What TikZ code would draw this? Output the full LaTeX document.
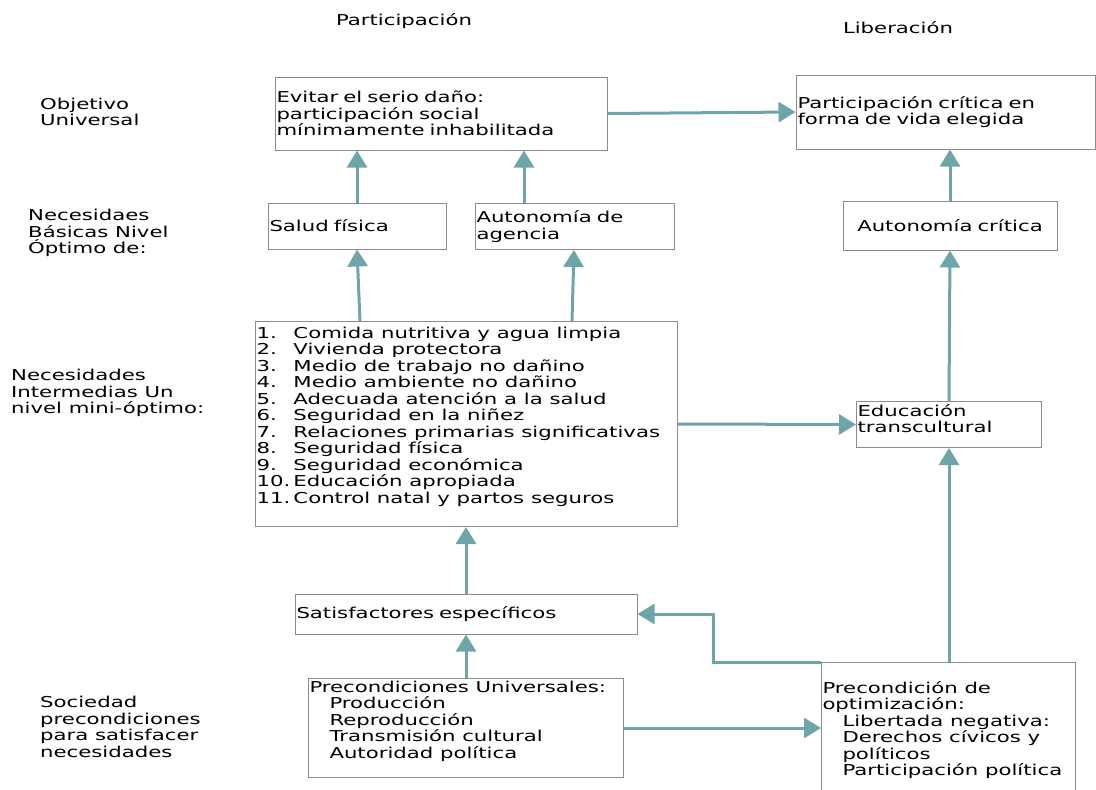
\documentclass[tikz,border=0pt]{standalone}
\usepackage{fontspec}
\setmainfont{DejaVu Sans}[FakeStretch=1.415]
\usetikzlibrary{arrows.meta}
\definecolor{verde}{RGB}{110,165,168}
\definecolor{borde}{RGB}{140,140,140}

\begin{document}
\begin{tikzpicture}[x=1pt, y=-1pt, font=\fontsize{15}{16.5}\selectfont,
	caja/.style={draw=borde, line width=1pt, inner xsep=1.5pt, inner ysep=0pt, align=left},
	cajaarriba/.style={draw=borde, line width=1pt, inner sep=0pt, anchor=north west},
	etiqueta/.style={inner sep=0pt, align=left, anchor=west},
	flecha/.style={draw=verde, line width=3pt, -{Triangle[length=17pt,width=20pt]}}]
	\def\sangria{\hspace*{21pt}}
	\def\num#1{\makebox[37pt][l]{#1}}
	\path [use as bounding box, clip] (0,0) rectangle (1096,790);
	% titulos y niveles
	\node [inner sep=0pt] (14) at (404, 21) {Participación};
	\node [inner sep=0pt] (15) at (898, 28) {Liberación};
	\node [etiqueta] (10) at (40, 112) {Objetivo\\Universal};
	\node [etiqueta] (11) at (28, 233) {Necesidaes\\Básicas Nivel\\Óptimo de:};
	\node [etiqueta] (12) at (11, 393) {Necesidades\\Intermedias Un\\nivel mini-óptimo:};
	\node [etiqueta] (13) at (40, 727) {Sociedad\\precondiciones\\para satisfacer\\necesidades};
	% cajas
	\node [caja, text width=329pt, minimum height=73pt] (0) at (441, 113.5) {Evitar el serio daño:\\participación social\\mínimamente inhabilitada};
	\node [caja, text width=296pt, minimum height=74pt] (1) at (945.5, 112) {Participación crítica en\\forma de vida elegida};
	\node [caja, text width=175pt, minimum height=46pt] (2) at (357, 226) {Salud física};
	\node [caja, text width=196pt, minimum height=46pt] (3) at (574.5, 226.5) {Autonomía de\\agencia};
	\node [caja, text width=211pt, minimum height=49pt, align=center] (4) at (950, 225.5) {Autonomía crítica};
	\node [cajaarriba] (5) at (255, 321) {\parbox[t][205pt][t]{422pt}{\vspace*{5.5pt}\hspace*{1pt}\num{1.}Comida nutritiva y agua limpia\\
		\hspace*{1pt}\num{2.}Vivienda protectora\\
		\hspace*{1pt}\num{3.}Medio de trabajo no dañino\\
		\hspace*{1pt}\num{4.}Medio ambiente no dañino\\
		\hspace*{1pt}\num{5.}Adecuada atención a la salud\\
		\hspace*{1pt}\num{6.}Seguridad en la niñez\\
		\hspace*{1pt}\num{7.}Relaciones primarias significativas\\
		\hspace*{1pt}\num{8.}Seguridad física\\
		\hspace*{1pt}\num{9.}Seguridad económica\\
		\hspace*{1pt}\num{10.}Educación apropiada\\
		\hspace*{1pt}\num{11.}Control natal y partos seguros}};
	\node [cajaarriba] (6) at (856, 401) {\parbox[t][46pt][t]{185pt}{\vspace*{2.5pt}\hspace*{1pt}Educación\\
		\hspace*{1pt}transcultural}};
	\node [caja, text width=339pt, minimum height=40pt] (7) at (466, 614) {Satisfactores específicos};
	\node [cajaarriba] (8) at (308, 678) {\parbox[t][99pt][t]{315pt}{\vspace*{2.5pt}\hspace*{1pt}Precondiciones Universales:\\
		\sangria Producción\\
		\sangria Reproducción\\
		\sangria Transmisión cultural\\
		\sangria Autoridad política}};
	\node [cajaarriba] (9) at (821, 662) {\parbox[t][140pt][t]{254pt}{\vspace*{18.5pt}\hspace*{1pt}Precondición de\\
		\hspace*{1pt}optimización:\\
		\sangria Libertada negativa:\\
		\sangria Derechos cívicos y\\
		\sangria políticos\\
		\sangria Participación política}};
	% flechas
	\draw [flecha] (0.east) -- (1.west);
	\draw [flecha] (2.north) -- (0.south -| 2.north);
	\draw [flecha] (3.north -| 524,0) -- (0.south -| 524,0);
	\draw [flecha] (4.north) -- (1.south -| 4.north);
	\draw [flecha] (5.north -| 360,0) -- (2.south);
	\draw [flecha] (5.north -| 572,0) -- (3.south -| 574,0);
	\draw [flecha] (6.north) -- (4.south);
	\draw [flecha] (5.east) -- (6.west);
	\draw [flecha] (7.north) -- (5.south -| 7.north);
	\draw [flecha] (8.north) -- (7.south -| 8.north);
	\draw [flecha] (8.east) -- (8.east -| 9.west);
	\draw [flecha] (9.north -| 6.south) -- (6.south);
	\draw [flecha] (9.north west) -- ++(-108,0) |- (7.east);
\end{tikzpicture}
\end{document}
